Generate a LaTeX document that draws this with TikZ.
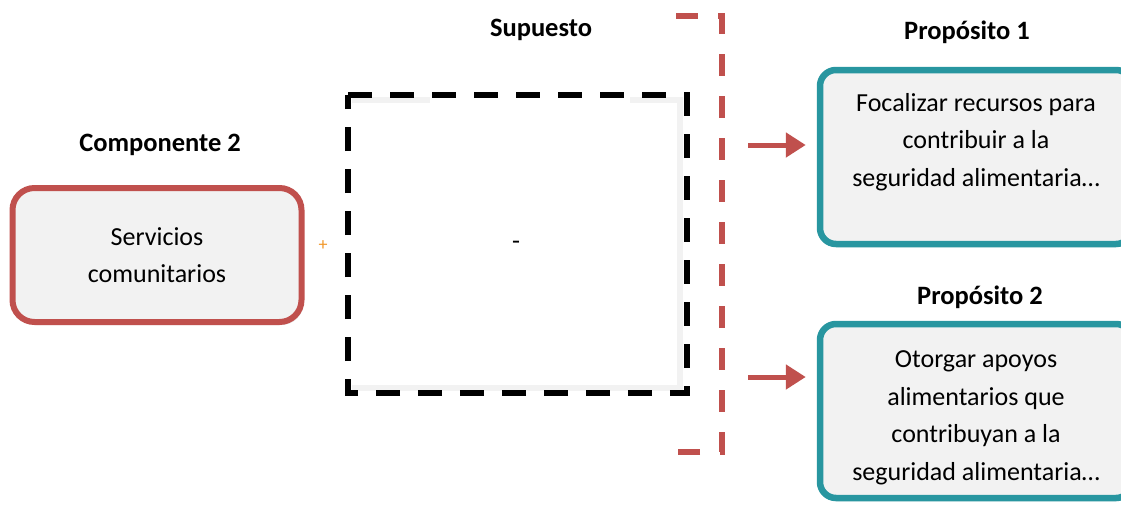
\documentclass[tikz,border=0pt]{standalone}
\usepackage{fontspec}
\setmainfont{Carlito}
\usetikzlibrary{positioning,shadows,arrows.meta}
\definecolor{myred}{RGB}{192,80,77}
\definecolor{myteal}{RGB}{40,150,160}
\definecolor{mygray}{RGB}{242,242,242}
\definecolor{myorange}{RGB}{240,150,40}

\begin{document}
\begin{tikzpicture}[x=1pt,y=-1pt,
		  every node/.style={font=\fontsize{26}{37.5}\selectfont},
		  title/.style={font=\fontsize{26.5}{30}\selectfont\bfseries},
		  compbox/.style={draw=myred,line width=6pt,fill=mygray,rounded corners=22pt,
		    minimum width=289pt,minimum height=134pt,align=center,
		    drop shadow={opacity=0.2,shadow xshift=2pt,shadow yshift=-3pt}},
		  propbox/.style={draw=myteal,line width=6.5pt,fill=mygray,rounded corners=16pt,
		    minimum width=312pt,minimum height=174pt,align=center,
		    drop shadow={opacity=0.2,shadow xshift=2pt,shadow yshift=-3pt}},
		  supbox/.style={draw,line width=6pt,dash pattern=on 24pt off 18pt},
		  redbracket/.style={draw=myred,line width=5.5pt,dash pattern=on 22pt off 20pt},
		  redarrow/.style={draw=myred,line width=5pt,-{Triangle[length=20pt,width=24pt]}}
		]
			\useasboundingbox (0,0) rectangle (1121,504);

			% the component
			\node[compbox] (comp) at (157,255) {Servicios\\comunitarios};
			\node[title] (comptitle) at (160,145) {Componente 2};
			\node[text=myorange,font=\fontsize{18}{20}\selectfont] (plus) at (323,246) {+};

			% the assumption
			\node[title] (suptitle) at (541,30) {Supuesto};
			\draw[mygray,line width=6pt] (352,100) -- (430,100) (630,100) -- (680,100) -- (680,388) -- (352,388);
			\draw[supbox] (348,95) -- (687,95) -- (687,393) -- (348,393) -- cycle;
			\node (minus) at (516,245) {-};

			% the bracket
			\draw[redbracket] (676,16) -- (722,16) -- (722,452) -- (676,452);

			% the purposes
			\node[propbox] (prop1) at (976,157) {Focalizar recursos para\\contribuir a la\\seguridad alimentaria\dots\\[-14pt]\strut};
			\node[title] (prop1title) at (967,32) {Propósito 1};
			\node[propbox] (prop2) at (976,411) {\strut\\[-33pt]Otorgar apoyos\\alimentarios que\\contribuyan a la\\seguridad alimentaria\dots};
			\node[title] (prop2title) at (980,297) {Propósito 2};

			% the arrows
			\coordinate (a1) at (748,145);
			\coordinate (a2) at (748,377);
			\draw[redarrow,shorten >=11pt] (a1) -- (a1 -| prop1.west);
			\draw[redarrow,shorten >=11pt] (a2) -- (a2 -| prop2.west);

		\end{tikzpicture}
\end{document}
